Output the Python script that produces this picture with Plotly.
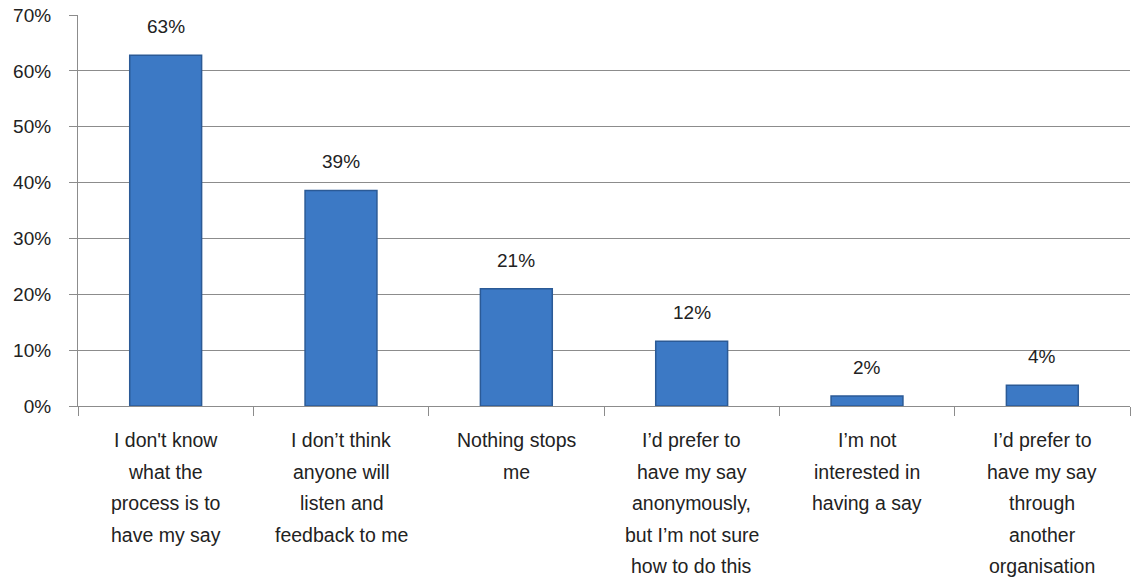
import plotly.graph_objects as go

categories = [
    "I don't know<br>what the<br>process is to<br>have my say",
    "I don’t think<br>anyone will<br>listen and<br>feedback to me",
    "Nothing stops<br>me",
    "I’d prefer to<br>have my say<br>anonymously,<br>but I’m not sure<br>how to do this",
    "I’m not<br>interested in<br>having a say",
    "I’d prefer to<br>have my say<br>through<br>another<br>organisation",
]
values = [62.8, 38.6, 21.0, 11.6, 1.8, 3.7]
labels = ["63%", "39%", "21%", "12%", "2%", "4%"]
yticks = [0, 10, 20, 30, 40, 50, 60, 70]
ytick_text = ["0%", "10%", "20%", "30%", "40%", "50%", "60%", "70%"]

FONT = "Liberation Sans"
x_idx = list(range(len(categories)))

fig = go.Figure()
fig.add_trace(go.Bar(
    x=x_idx, y=values,
    width=0.41,
    marker=dict(color="#3c79c5", line=dict(color="#2b5a96", width=1.5)),
    hoverinfo="skip",
))

annotations = []
for i, (v, lab) in enumerate(zip(values, labels)):
    annotations.append(dict(
        x=i, y=v, xref="x", yref="y", text=lab, showarrow=False,
        yanchor="bottom", yshift=16,
        font=dict(family=FONT, size=19, color="#222222"),
    ))
    for j, line in enumerate(categories[i].split("<br>")):
        annotations.append(dict(
            x=i, y=0, xref="x", yref="paper", text=line, showarrow=False,
            yanchor="middle", yshift=-34 - 31.5 * j,
            font=dict(family=FONT, size=19.5, color="#222222"),
        ))

fig.update_layout(
    width=1135, height=584,
    margin=dict(l=78, r=5, t=15, b=178),
    paper_bgcolor="white", plot_bgcolor="white",
    showlegend=False,
    annotations=annotations,
    xaxis=dict(
        range=[-0.5, 5.5],
        tickmode="array", tickvals=[i - 0.5 for i in range(7)],
        showticklabels=False,
        ticks="outside", ticklen=9, tickcolor="#8c8c8c", tickwidth=1.2,
        showgrid=False, zeroline=False,
        showline=True, linecolor="#8c8c8c", linewidth=1.2,
    ),
    yaxis=dict(
        range=[0, 70],
        tickmode="array", tickvals=yticks, ticktext=ytick_text,
        ticks="outside", ticklen=8, tickcolor="#8c8c8c", tickwidth=1.2,
        ticklabelstandoff=14,
        tickfont=dict(family=FONT, size=19, color="#222222"),
        showgrid=True, gridcolor="#8c8c8c", gridwidth=1.2,
        zeroline=False,
        showline=True, linecolor="#8c8c8c", linewidth=1.2,
    ),
)

fig.write_html("out.html")
